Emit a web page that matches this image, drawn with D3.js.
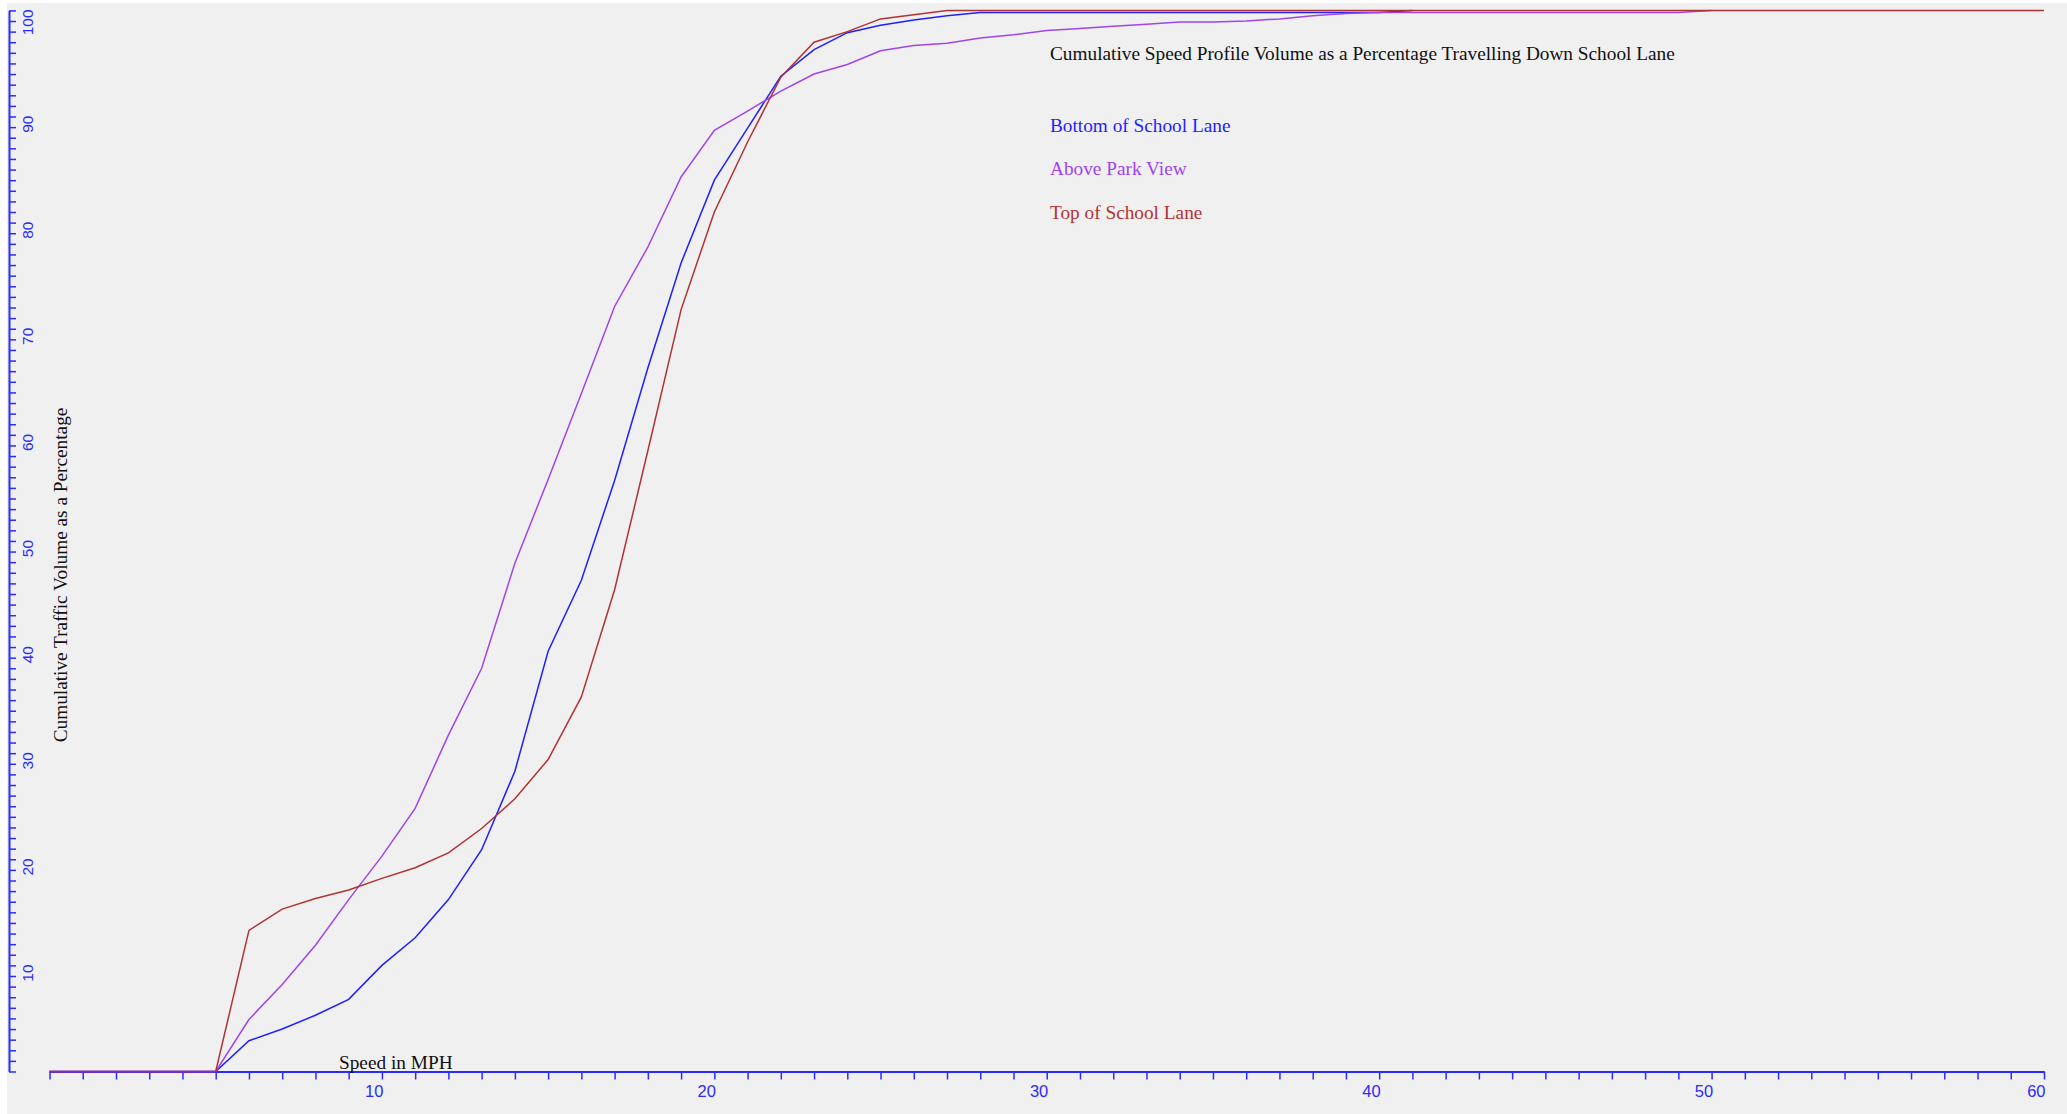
<!DOCTYPE html>
<html>
<head>
<meta charset="utf-8">
<script src="https://cdn.jsdelivr.net/npm/d3@7"></script>
<style>
  html, body { margin: 0; padding: 0; background: #ffffff; }
  svg { display: block; }
</style>
</head>
<body>
<svg id="chart" width="2067" height="1114"></svg>
<script>
// ---- Data (speed in MPH, index = speed) ----
const speeds = d3.range(0, 61);
const xTickLabels = [10, 20, 30, 40, 50, 60];
const yTickLabels = [10, 20, 30, 40, 50, 60, 70, 80, 90, 100];

const seriesNames = ["Bottom of School Lane", "Above Park View", "Top of School Lane"];
const seriesColors = ["#1f1fff", "#a044ee", "#b23232"];

// cumulative percentage at speeds 0,1,2,...
const bottomOfSchoolLane = [0, 0, 0, 0, 0, 0, 2.9, 4.0, 5.3, 6.8, 10.0, 12.6, 16.2, 20.9, 28.3, 39.6,
  46.3, 55.7, 66.3, 76.2, 84.0, 88.9, 93.8, 96.3, 97.9, 98.6, 99.1, 99.5, 99.8, 99.8, 99.8,
  99.8, 99.8, 99.8, 99.8, 99.8, 99.8, 99.8, 99.8, 99.8, 99.8, 100];
const aboveParkView = [0, 0, 0, 0, 0, 0, 4.9, 8.2, 11.9, 16.2, 20.3, 24.8, 31.7, 38.0, 47.9, 55.8,
  63.9, 72.1, 77.7, 84.3, 88.7, 90.5, 92.4, 94.0, 94.9, 96.2, 96.7, 96.9, 97.4, 97.7, 98.1,
  98.3, 98.5, 98.7, 98.9, 98.9, 99.0, 99.2, 99.5, 99.7, 99.8, 99.8, 99.8, 99.8, 99.8, 99.8,
  99.8, 99.8, 99.8, 99.8, 100];
const topOfSchoolLane = [0, 0, 0, 0, 0, 0, 13.3, 15.3, 16.3, 17.1, 18.2, 19.2, 20.6, 22.9, 25.7, 29.4,
  35.3, 45.4, 58.5, 71.8, 81.0, 87.6, 93.7, 97.0, 98.0, 99.2, 99.6, 100, 100, 100, 100,
  100, 100, 100, 100, 100, 100, 100, 100, 100, 100, 100, 100, 100, 100, 100,
  100, 100, 100, 100, 100, 100, 100, 100, 100, 100, 100, 100, 100, 100, 100];

const seriesValues = [bottomOfSchoolLane, aboveParkView, topOfSchoolLane];

// ---- Layout ----
const W = 2067, H = 1114;
const axisColor = "#2b2bff";
const svg = d3.select("#chart");

svg.append("rect").attr("x", 7).attr("y", 3).attr("width", W - 7).attr("height", H - 3)
  .attr("fill", "#f0f0f0");

const x = d3.scaleLinear().domain([0, 60]).range([49.5, 2044]);
const y = d3.scaleLinear().domain([0, 100]).range([1071.5, 10.4]);

// ---- X axis ----
const xAxis = d3.axisBottom(x)
  .tickValues(speeds)
  .tickSize(8)
  .tickSizeOuter(0)
  .tickPadding(6)
  .tickFormat(d => xTickLabels.includes(d) ? d : "");
const gx = svg.append("g").attr("transform", `translate(0,${y(0)})`).call(xAxis);
gx.select(".domain").attr("stroke", axisColor).attr("stroke-width", 2);
gx.selectAll(".tick line").attr("stroke", axisColor).attr("stroke-width", 1.5);
gx.selectAll(".tick text").attr("fill", axisColor)
  .attr("text-anchor", "end").attr("x", 1)
  .attr("font-family", "'Liberation Sans', Arial, sans-serif").attr("font-size", 16.5);

// ---- Y axis ----
const yAxisX = 9;
const yAxis = d3.axisRight(y)
  .tickValues(d3.range(0, 101))
  .tickSize(7)
  .tickSizeOuter(0)
  .tickFormat("");
const gy = svg.append("g").attr("transform", `translate(${yAxisX},0)`).call(yAxis);
gy.select(".domain").attr("stroke", axisColor).attr("stroke-width", 2);
gy.selectAll(".tick line").attr("stroke", axisColor).attr("stroke-width", 1.5);

svg.append("g").selectAll("text").data(yTickLabels).join("text")
  .attr("transform", d => `translate(33,${y(d) - 1}) rotate(-90)`)
  .attr("text-anchor", "end")
  .attr("fill", axisColor)
  .attr("font-family", "'Liberation Sans', Arial, sans-serif")
  .attr("font-size", 15.5)
  .text(d => d);

// ---- Lines ----
const line = d3.line().x((d, i) => x(speeds[i])).y(d => y(d));
svg.append("g").selectAll("path").data(seriesValues).join("path")
  .attr("d", d => line(d))
  .attr("fill", "none")
  .attr("stroke", (d, i) => seriesColors[i])
  .attr("stroke-width", 1.5);

// ---- Texts ----
const serif = "'Liberation Serif', 'Times New Roman', serif";
const fs = 19.3;
svg.append("text").attr("x", 1050).attr("y", 60)
  .attr("font-family", serif).attr("font-size", fs).attr("fill", "#111")
  .text("Cumulative Speed Profile Volume as a Percentage Travelling Down School Lane");

const legendY = [131.5, 175, 218.5];
svg.append("g").selectAll("text").data(seriesNames).join("text")
  .attr("x", 1050).attr("y", (d, i) => legendY[i])
  .attr("font-family", serif).attr("font-size", fs)
  .attr("fill", (d, i) => seriesColors[i])
  .text(d => d);

svg.append("text").attr("x", 339).attr("y", 1069)
  .attr("font-family", serif).attr("font-size", fs).attr("fill", "#111")
  .text("Speed in MPH");

svg.append("text")
  .attr("transform", "translate(67,575) rotate(-90)")
  .attr("text-anchor", "middle")
  .attr("font-family", serif).attr("font-size", fs).attr("fill", "#111")
  .text("Cumulative Traffic Volume as a Percentage");
</script>
</body>
</html>
